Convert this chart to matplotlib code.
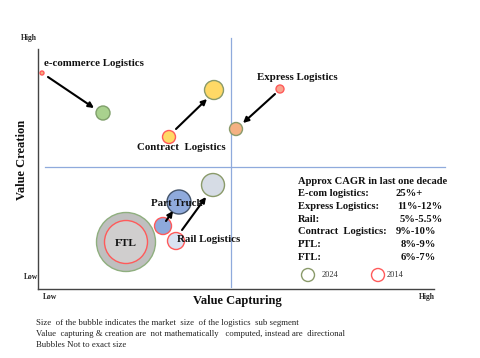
import matplotlib
matplotlib.use("Agg")
import matplotlib.pyplot as plt
from matplotlib.patches import Circle

plt.rcParams['font.family'] = ['Liberation Serif', 'DejaVu Serif']

# ---- data (positions in chart pixel space, radius = bubble size) ----
segments = ["e-commerce", "Contract", "Express", "Rail", "PTL", "FTL"]
x_2014 = [42, 169, 280, 176, 163, 126]
y_2014 = [73, 137, 89, 241, 226, 242]
r_2014 = [2, 6.5, 4, 8.5, 8.5, 21.5]
x_2024 = [103, 214, 236, 213, 179, 126]
y_2024 = [113, 90, 129, 185, 202, 242]
r_2024 = [7, 9.5, 6.5, 11.5, 12, 29.5]

cagr_names = ["E-com logistics:", "Express Logistics:", "Rail:",
              "Contract  Logistics:", "PTL:", "FTL:"]
cagr_vals = ["25%+", "11%-12%", "5%-5.5%", "9%-10%", "8%-9%", "6%-7%"]

notes = ["Size  of the bubble indicates the market  size  of the logistics  sub segment",
         "Value  capturing & creation are  not mathematically   computed, instead are  directional",
         "Bubbles Not to exact size"]

# ---- styles ----
fill_2014 = ["#f4b183", "#ffd966", "#f8a58f", "#dae3f3", "#8ea9db", "#d0cece"]
fill_2024 = ["#a9d18e", "#ffd966", "#f4b183", "#d6dce5", "#8faadc", "#bfbfbf"]
edge_2014 = "#ff5a5a"
edge_2024 = ["#7f9f6a", "#8a9a6a", "#8a9a6a", "#8a9a6a", "#44546a", "#8faf7f"]

fig = plt.figure(figsize=(4.8, 3.58), dpi=100)
ax = fig.add_axes([0, 0, 1, 1])
ax.set_xlim(0, 480)
ax.set_ylim(358, 0)
ax.axis('off')

# axes lines
ax.plot([37.5, 37.5], [49, 289], color="#444444", lw=1.0)
ax.plot([37.5, 434], [289, 289], color="#444444", lw=1.0)
# quadrant lines
ax.plot([231, 231], [38, 287], color="#8faadc", lw=0.9)
ax.plot([45, 445], [167, 167], color="#8faadc", lw=0.9)

# bubbles
order = [5, 0, 1, 2, 3, 4]
for i in order:
    ax.add_patch(Circle((x_2024[i], y_2024[i]), r_2024[i], facecolor=fill_2024[i],
                        edgecolor=edge_2024[i], lw=1.0, zorder=3))
    ax.add_patch(Circle((x_2014[i], y_2014[i]), r_2014[i], facecolor=fill_2014[i],
                        edgecolor=edge_2014, lw=1.0, zorder=4))

# arrows
arrows = [((48, 77), (94, 108)), ((176, 129), (207, 99)), ((275, 94), (243, 123)),
          ((166, 221), (173, 211)), ((182, 230), (206, 197))]
for (sx, sy), (ex, ey) in arrows:
    ax.annotate("", xy=(ex, ey), xytext=(sx, sy),
                arrowprops=dict(arrowstyle="-|>", color="black", lw=1.5,
                                mutation_scale=8, shrinkA=0, shrinkB=0), zorder=5)

lab = dict(fontsize=7.8, fontweight='bold', color="#111111", zorder=6)
ax.text(44, 64, "e-commerce Logistics", ha='left', va='center', **lab)
ax.text(137, 147, "Contract  Logistics", ha='left', va='center', **lab)
ax.text(257, 78, "Express Logistics", ha='left', va='center', **lab)
ax.text(151, 203, "Part Truck", ha='left', va='center', **lab)
ax.text(177, 240, "Rail Logistics", ha='left', va='center', **lab)
ax.text(126, 243, "FTL", ha='center', va='center', fontsize=8.2, fontweight='bold',
        color="#111111", zorder=6)

small = dict(fontsize=5.5, fontweight='bold', color="#222222")
ax.text(21, 38, "High", ha='left', va='center', **small)
ax.text(24, 277, "Low", ha='left', va='center', **small)
ax.text(43, 297, "Low", ha='left', va='center', **small)
ax.text(419, 297, "High", ha='left', va='center', **small)

ax.text(22, 160, "Value Creation", rotation=90, ha='center', va='center',
        fontsize=9, fontweight='bold', color="#111111")
ax.text(237, 301, "Value Capturing", ha='center', va='center',
        fontsize=9, fontweight='bold', color="#111111")

# CAGR block
ax.text(298, 182, "Approx CAGR in last one decade", ha='left', va='center',
        fontsize=7.6, fontweight='bold', color="#111111")
val_x = [396, 397, 400, 396, 401, 401]
for k, (n, v) in enumerate(zip(cagr_names, cagr_vals)):
    yy = 194 + k * 12.6
    ax.text(298, yy, n, ha='left', va='center', fontsize=7.6, fontweight='bold', color="#111111")
    ax.text(val_x[k], yy, v, ha='left', va='center', fontsize=7.6, fontweight='bold', color="#111111")

# legend
ax.add_patch(Circle((308, 275), 6.5, facecolor='white', edgecolor="#8a9a6a", lw=1.0))
ax.text(322, 275, "2024", ha='left', va='center', fontsize=6, color="#333333")
ax.add_patch(Circle((378, 275), 6.5, facecolor='white', edgecolor=edge_2014, lw=1.0))
ax.text(387, 275, "2014", ha='left', va='center', fontsize=6, color="#333333")

for k, t in enumerate(notes):
    ax.text(36, 323 + k * 11, t, ha='left', va='center', fontsize=6.3, color="#222222")

fig.savefig("out.png", dpi=100)
